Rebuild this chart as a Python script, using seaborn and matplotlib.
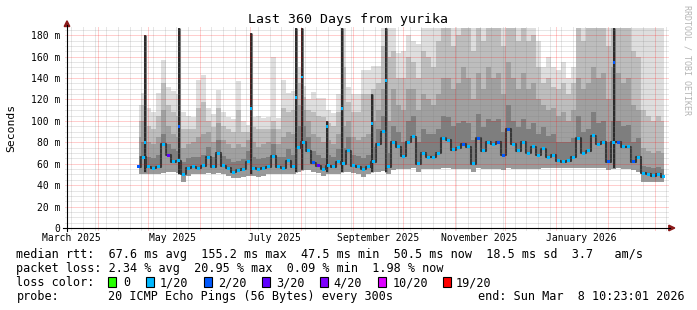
import numpy as np
import pandas as pd
import matplotlib
matplotlib.use("Agg")
import matplotlib.pyplot as plt
import seaborn as sns
from matplotlib.patches import Polygon, Rectangle
from matplotlib.lines import Line2D

# ---------------- data ----------------
start = pd.Timestamp("2025-03-13 10:23:01")
end = pd.Timestamp("2026-03-08 10:23:01")
span_days = 360
first_day = 43      # first sample (days after start)
step_days = 3       # sample spacing (days)

med = [57, 66, 57, 56, 57, 78, 68, 62, 63, 50,
       56, 57, 56, 58, 66, 57, 70, 58, 56, 52,
       54, 55, 62, 56, 55, 56, 57, 67, 57, 56,
       63, 57, 75, 80, 72, 61, 58, 55, 58, 57,
       62, 60, 72, 58, 57, 55, 57, 62, 78, 90,
       57, 80, 76, 67, 80, 85, 60, 70, 66, 66,
       70, 84, 82, 73, 75, 78, 76, 60, 84, 72,
       80, 78, 80, 68, 92, 78, 72, 80, 70, 76,
       68, 74, 66, 68, 63, 62, 63, 66, 84, 70,
       72, 86, 78, 80, 62, 80, 80, 76, 76, 62,
       66, 51, 50, 49, 50, 48]
lo = [50, 50, 50, 50, 50, 51, 52, 52, 51, 43,
      49, 50, 50, 50, 51, 50, 51, 50, 49, 47,
      47, 48, 49, 49, 48, 49, 50, 50, 50, 50,
      50, 50, 52, 54, 54, 52, 51, 49, 50, 50,
      50, 52, 52, 51, 50, 48, 50, 52, 52, 53,
      50, 54, 55, 55, 55, 56, 52, 55, 55, 55,
      55, 56, 56, 55, 55, 55, 55, 52, 56, 55,
      55, 55, 55, 54, 56, 55, 55, 55, 55, 55,
      55, 56, 56, 56, 56, 56, 56, 56, 56, 56,
      56, 56, 56, 56, 54, 55, 56, 55, 55, 54,
      52, 43, 43, 43, 43, 43]
dark_top = [67, 80, 66, 65, 68, 88, 78, 74, 72, 62,
            65, 66, 66, 68, 76, 66, 82, 67, 64, 62,
            63, 64, 72, 66, 64, 65, 66, 78, 66, 66,
            74, 68, 95, 95, 85, 72, 68, 65, 68, 66,
            74, 75, 85, 68, 67, 65, 68, 76, 92, 105,
            70, 95, 90, 80, 100, 105, 80, 92, 88, 88,
            92, 105, 104, 95, 98, 100, 98, 82, 106, 94,
            102, 100, 102, 90, 115, 100, 94, 102, 92, 98,
            88, 94, 86, 88, 80, 80, 80, 84, 105, 90,
            92, 108, 98, 100, 80, 100, 100, 95, 96, 80,
            84, 58, 57, 56, 57, 55]
mid_top = [85, 100, 80, 78, 85, 110, 95, 88, 85, 75,
           78, 80, 85, 88, 90, 80, 98, 82, 78, 75,
           78, 76, 82, 80, 76, 78, 80, 92, 78, 85,
           90, 88, 115, 110, 100, 88, 85, 80, 82, 78,
           88, 95, 100, 85, 82, 85, 88, 100, 110, 130,
           100, 130, 115, 110, 130, 130, 110, 125, 120, 115,
           125, 140, 140, 130, 135, 150, 140, 120, 145, 130,
           150, 140, 145, 125, 155, 140, 130, 145, 130, 135,
           120, 115, 110, 112, 105, 108, 100, 110, 140, 130,
           135, 150, 140, 145, 120, 150, 145, 135, 140, 115,
           110, 75, 72, 70, 72, 70]
light_top = [100, 115, 95, 92, 105, 135, 115, 108, 105, 92,
             92, 92, 112, 118, 100, 94, 112, 95, 92, 90,
             110, 90, 90, 94, 92, 92, 92, 100, 92, 112,
             108, 110, 135, 122, 110, 108, 105, 104, 98, 95,
             108, 150, 118, 108, 108, 125, 125, 130, 135, 170,
             160, 165, 140, 140, 160, 155, 140, 165, 160, 150,
             175, 187, 187, 170, 180, 187, 187, 165, 187, 175,
             187, 187, 187, 170, 187, 187, 175, 187, 175, 180,
             150, 135, 140, 132, 130, 135, 125, 135, 187, 175,
             187, 187, 187, 187, 170, 187, 187, 187, 187, 165,
             160, 110, 105, 100, 105, 100]
hi = [115, 126, 112, 108, 126, 157, 132, 128, 125, 108,
      105, 104, 138, 143, 112, 106, 129, 108, 104, 102,
      137, 100, 96, 104, 105, 103, 104, 160, 103, 138,
      126, 128, 150, 133, 120, 127, 121, 121, 110, 107,
      125, 187, 132, 125, 125, 148, 148, 151, 151, 187,
      187, 187, 163, 165, 180, 175, 172, 187, 187, 187,
      187, 187, 187, 187, 187, 187, 187, 187, 187, 187,
      187, 187, 187, 187, 187, 187, 187, 187, 187, 187,
      175, 150, 160, 150, 148, 155, 140, 150, 187, 187,
      187, 187, 187, 187, 187, 187, 187, 187, 187, 187,
      187, 187, 187, 187, 187, 187]
loss = [2, 1, 1, 1, 1, 1, 3, 1, 1, 1,
        1, 1, 1, 1, 1, 1, 1, 1, 1, 1,
        1, 1, 1, 1, 1, 1, 1, 1, 1, 1,
        1, 1, 1, 1, 1, 2, 3, 1, 1, 1,
        1, 1, 1, 1, 1, 1, 1, 1, 1, 1,
        1, 1, 1, 1, 1, 1, 1, 1, 1, 1,
        1, 1, 1, 1, 1, 2, 1, 1, 2, 1,
        1, 1, 2, 2, 2, 1, 1, 1, 1, 1,
        1, 1, 1, 1, 1, 1, 1, 1, 1, 1,
        1, 1, 1, 1, 2, 1, 2, 1, 1, 2,
        1, 1, 1, 1, 1, 1]

# narrow latency spikes
spike_day = [46.8, 67.2, 110.4, 137.4, 141.0, 156.0, 165.0, 183.0, 191.4, 328.2]
spike_med = [80, 95, 112, 122, 141, 95, 112, 98, 138, 155]
spike_top = [180, 187, 182, 187, 187, 100, 187, 125, 187, 187]
spike_base = [52, 50, 50, 52, 54, 52, 52, 52, 52, 56]
spike_loss = [1, 2, 1, 1, 1, 1, 1, 1, 1, 2]

loss_labels = ["0", "1/20", "2/20", "3/20", "4/20", "10/20", "19/20"]
loss_colors = ["#26ff00", "#00b8ff", "#0059ff", "#5e00ff", "#7e00ff", "#dd00ff", "#ff0000"]

y_ticks = [0, 20, 40, 60, 80, 100, 120, 140, 160, 180]
y_labels = ["0", "20 m", "40 m", "60 m", "80 m", "100 m", "120 m", "140 m", "160 m", "180 m"]
month_labels = ["March 2025", "May 2025", "July 2025", "September 2025",
                "November 2025", "January 2026"]

rtt_line = "median rtt:  67.6 ms avg  155.2 ms max  47.5 ms min  50.5 ms now  18.5 ms sd  3.7   am/s"
loss_line = "packet loss: 2.34 % avg  20.95 % max  0.09 % min  1.98 % now"
probe_text = "20 ICMP Echo Pings (56 Bytes) every 300s"
end_text = "end: Sun Mar  8 10:23:01 2026"
title = "Last 360 Days from yurika"

# ---------------- figure ----------------
MONO = "DejaVu Sans Mono"
plt.rcParams["font.family"] = [MONO, "DejaVu Sans"]
W, H = 697, 310
fig = plt.figure(figsize=(W / 100, H / 100), dpi=100)
fig.patch.set_facecolor("white")

def fx(x):
    return x / W

def fy(y):
    return 1 - y / H

X0, X1, Y0, Y1 = 67, 667, 228, 27
ax = fig.add_axes([fx(X0), fy(Y0), (X1 - X0) / W, (Y0 - Y1) / H])
ax.set_facecolor("white")
ax.set_xlim(0, span_days)
ax.set_ylim(0, 187.7)
for s in ax.spines.values():
    s.set_visible(False)

days = first_day + step_days * np.arange(len(med))
med_a = np.array(med, float)

# smoke bands
ax.fill_between(days, med_a, hi, step="mid", color="#dedede", lw=0, zorder=1)
ax.fill_between(days, med_a, light_top, step="mid", color="#bdbdbd", lw=0, zorder=1.1)
ax.fill_between(days, med_a, mid_top, step="mid", color="#a0a0a0", lw=0, zorder=1.2)
ax.fill_between(days, med_a, dark_top, step="mid", color="#7e7e7e", lw=0, zorder=1.3)
ax.fill_between(days, lo, med_a, step="mid", color="#9a9a9a", lw=0, zorder=1.3)

# spikes
ax.vlines(spike_day, spike_base, spike_top, color="#7a7a7a", lw=2.2, zorder=1.4)
ax.vlines(spike_day, spike_base, spike_top, color="#1c1c1c", lw=1.2, zorder=1.5)

# dark median core
ax.plot(days, med_a, drawstyle="steps-mid", color="#383838", lw=1.5, zorder=1.6,
        solid_capstyle="butt")

# grid (drawn over the smoke like rrdtool)
month_starts = pd.date_range("2025-04-01", end, freq="MS")
week_starts = pd.date_range("2025-03-16", end, freq="7D")

def to_day(t):
    return (t - start).total_seconds() / 86400.0

minor_col = (0.5, 0.5, 0.5, 0.38)
major_col = (1.0, 0.0, 0.0, 0.38)
dot = (0, (1, 1))
ext_y = 2 / (Y0 - Y1)
ext_x = 2 / (X1 - X0)
for t in week_starts:
    d = to_day(t)
    if 0 < d < span_days and t.day != 1:
        ax.axvline(d, ymin=-ext_y, ymax=1, color=minor_col, lw=0.72, ls=dot,
                   zorder=3, clip_on=False)
for v in range(5, 188, 5):
    if v % 20:
        ax.axhline(v, xmin=-ext_x, xmax=1 + ext_x, color=minor_col, lw=0.72, ls=dot,
                   zorder=3, clip_on=False)
for t in month_starts:
    d = to_day(t)
    if 0 < d < span_days:
        ax.axvline(d, ymin=-ext_y, ymax=1, color=major_col, lw=0.72, ls=dot,
                   zorder=3.1, clip_on=False)
for v in y_ticks[1:]:
    ax.axhline(v, xmin=-ext_x, xmax=1 + ext_x, color=major_col, lw=0.72, ls=dot,
               zorder=3.1, clip_on=False)

# median points coloured by loss
pts = pd.DataFrame({"day": list(days) + spike_day,
                    "rtt": med + spike_med,
                    "loss": [loss_labels[k] for k in loss + spike_loss]})
sns.scatterplot(data=pts, x="day", y="rtt", hue="loss",
                palette=dict(zip(loss_labels, loss_colors)),
                marker="s", s=4.6, linewidth=0, legend=False, ax=ax, zorder=5)
ax.set_xlabel("")
ax.set_ylabel("")

# ticks
label_days = [to_day(pd.Timestamp(f"{y}-{m:02d}-16 00:00"))
              for y, m in [(2025, 3), (2025, 5), (2025, 7), (2025, 9), (2025, 11), (2026, 1)]]
ax.set_xticks(label_days)
ax.set_xticklabels(month_labels, fontsize=7, family=MONO)
ax.set_yticks(y_ticks)
ax.set_yticklabels(y_labels, fontsize=7, family=MONO)
ax.tick_params(axis="x", length=0, pad=3.6, colors="black")
ax.tick_params(axis="y", length=0, pad=5.0, colors="black")

# axes with arrows
fig.add_artist(Line2D([fx(X0), fx(X0)], [fy(231), fy(25)], color="black", lw=0.8,
                      transform=fig.transFigure))
fig.add_artist(Line2D([fx(63), fx(670)], [fy(Y0), fy(Y0)], color="black", lw=0.8,
                      transform=fig.transFigure))
arrow_col = "#8b1a1a"
fig.add_artist(Polygon([(fx(64.2), fy(26.5)), (fx(69.8), fy(26.5)), (fx(67), fy(20.8))],
                       closed=True, color=arrow_col, transform=fig.transFigure))
fig.add_artist(Polygon([(fx(668.8), fy(225.2)), (fx(668.8), fy(230.8)), (fx(674.8), fy(228))],
                       closed=True, color=arrow_col, transform=fig.transFigure))

# titles
fig.text(fx(347.5), fy(19.3), title, ha="center", va="center", fontsize=9.5, family=MONO)
fig.text(fx(11), fy(128), "Seconds", ha="center", va="center", rotation=90,
         fontsize=8.2, family=MONO)
fig.text(fx(687.5), fy(5), "RRDTOOL / TOBI OETIKER", ha="center", va="top",
         rotation=270, fontsize=6, family=MONO, color="#b4b4b4")

# legend block
FS = 8.5
def put(x, ybase, s):
    fig.text(fx(x), fy(ybase), s, ha="left", va="baseline", fontsize=FS, family=MONO)

b1, b2, b3, b4 = 258.3, 272.3, 286.3, 300.3
put(16.5, b1, rtt_line)
put(16.5, b2, loss_line)
put(16.5, b3, "loss color:")
box_x = [108, 145.5, 204, 261.7, 320.4, 378, 443]
lab_x = [123.7, 160, 218, 276, 333.8, 392.5, 456]
for bx, lx, lab, col in zip(box_x, lab_x, loss_labels, loss_colors):
    fig.add_artist(Rectangle((fx(bx), fy(287)), 8 / W, 10 / H, facecolor=col,
                             edgecolor="black", lw=0.8, transform=fig.transFigure))
    put(lx, b3, lab)
put(16.5, b4, "probe:")
put(107.7, b4, probe_text)
put(478.4, b4, end_text)

fig.savefig("out.png", dpi=100, facecolor="white")
